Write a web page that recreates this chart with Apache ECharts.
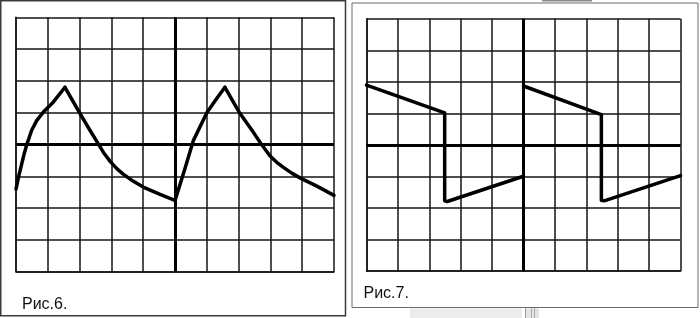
<!DOCTYPE html>
<html>
<head>
<meta charset="utf-8">
<script src="https://cdn.jsdelivr.net/npm/echarts@6/dist/echarts.min.js"></script>
<style>html,body{margin:0;padding:0;background:#fff}#c{width:700px;height:318px}</style>
</head>
<body>
<div id="c"></div>
<script>
// Axis ranges (divisions of the oscilloscope screen)
const xTicks = [0, 1, 2, 3, 4, 5, 6, 7, 8, 9, 10];
const yTicks = [-4, -3, -2, -1, 0, 1, 2, 3, 4];
const captions = ["Рис.6.", "Рис.7."];

// Рис.6 — exponential charge / discharge waveform, [x, y] in divisions
const fig6Rise1 = [[0, -1.4], [0.09, -0.98], [0.18, -0.61], [0.26, -0.28], [0.34, 0], [0.49, 0.44], [0.65, 0.75], [0.86, 1.02], [1.17, 1.33], [1.54, 1.8]];
const fig6Fall1 = [[1.54, 1.8], [2.01, 0.98], [2.33, 0.44], [2.54, 0.1], [2.75, -0.25], [2.96, -0.53], [3.17, -0.76], [3.37, -0.93], [3.68, -1.15], [4.0, -1.34], [4.53, -1.57], [5.0, -1.76]];
const fig6Rise2 = [[5.0, -1.76], [5.3, -0.8], [5.58, 0.13], [6.0, 1.0], [6.3, 1.43], [6.57, 1.8]];
const fig6Fall2 = [[6.57, 1.8], [7.04, 0.98], [7.46, 0.39], [7.7, 0.03], [7.99, -0.36], [8.2, -0.56], [8.41, -0.72], [8.67, -0.9], [8.93, -1.05], [9.46, -1.31], [10, -1.6]];

// Рис.7 — sawtooth / tilted square waveform
const fig7Seg1 = [[0, 1.9], [2.49, 1.02], [2.49, -1.77], [2.57, -1.79], [5.0, -0.99]];
const fig7Seg2 = [[5.0, 1.87], [7.48, 0.96], [7.48, -1.75], [7.57, -1.77], [10, -0.97]];

const chart = echarts.init(document.getElementById('c'), null, {renderer: 'canvas'});

const gridLine = {color: '#151515', width: 1.5};
function mkX(i) {
  return {
    type: 'value', gridIndex: i, min: xTicks[0], max: xTicks[xTicks.length - 1], interval: 1,
    axisLabel: {show: false}, axisTick: {show: false},
    axisLine: {show: true, onZero: false, lineStyle: gridLine},
    splitLine: {show: true, lineStyle: gridLine}
  };
}
function mkY(i) {
  return {
    type: 'value', gridIndex: i, min: yTicks[0], max: yTicks[yTicks.length - 1], interval: 1,
    axisLabel: {show: false}, axisTick: {show: false},
    axisLine: {show: true, onZero: false, lineStyle: gridLine},
    splitLine: {show: true, lineStyle: gridLine}
  };
}
const centerLines = {
  silent: true, symbol: 'none', label: {show: false}, animation: false,
  lineStyle: {color: '#000', width: 3, type: 'solid'},
  data: [{xAxis: 5}, {yAxis: 0}]
};
function mkLine(data, i, withCenter) {
  const s = {
    type: 'line', xAxisIndex: i, yAxisIndex: i, data: data, showSymbol: false,
    smooth: false, clip: false,
    lineStyle: {color: '#000', width: 3.5, cap: 'round', join: 'round'},
    z: 5, animation: false
  };
  if (withCenter) s.markLine = centerLines;
  return s;
}

chart.setOption({
  backgroundColor: '#fff',
  animation: false,
  grid: [
    {left: 16, top: 17.3, width: 318, height: 254.4},
    {left: 366.5, top: 18.8, width: 314, height: 252.4}
  ],
  xAxis: [mkX(0), mkX(1)],
  yAxis: [mkY(0), mkY(1)],
  series: [
    mkLine(fig6Rise1, 0, true),
    mkLine(fig6Fall1, 0, false),
    mkLine(fig6Rise2, 0, false),
    mkLine(fig6Fall2, 0, false),
    mkLine(fig7Seg1, 1, true),
    mkLine(fig7Seg2, 1, false)
  ],
  graphic: [
    {type: 'rect', shape: {x: 0.75, y: 0.75, width: 344.75, height: 315}, style: {fill: null, stroke: '#3a3a3a', lineWidth: 1.5}, silent: true},
    {type: 'rect', shape: {x: 352, y: 3, width: 346, height: 304.5}, style: {fill: null, stroke: '#6a6a6a', lineWidth: 1}, silent: true},
    {type: 'rect', shape: {x: 542, y: 0, width: 50, height: 1.6}, style: {fill: '#8a8a8a'}, silent: true},
    {type: 'rect', shape: {x: 410, y: 308.5, width: 112, height: 9.5}, style: {fill: '#ececec'}, silent: true},
    {type: 'rect', shape: {x: 525, y: 308.5, width: 14, height: 9.5}, style: {fill: '#e4e4e4'}, silent: true},
    {type: 'line', shape: {x1: 525.5, y1: 308, x2: 525.5, y2: 318}, style: {stroke: '#999', lineWidth: 1}, silent: true},
    {type: 'line', shape: {x1: 531.5, y1: 308, x2: 531.5, y2: 318}, style: {stroke: '#aaa', lineWidth: 1}, silent: true},
    {type: 'line', shape: {x1: 534.5, y1: 308, x2: 534.5, y2: 318}, style: {stroke: '#aaa', lineWidth: 1}, silent: true},
    {type: 'text', style: {text: captions[0], x: 22, y: 304.5, font: '16px "Liberation Sans", Arial, sans-serif', fill: '#111', verticalAlign: 'middle'}, silent: true},
    {type: 'text', style: {text: captions[1], x: 363.5, y: 293.5, font: '16px "Liberation Sans", Arial, sans-serif', fill: '#111', verticalAlign: 'middle'}, silent: true}
  ]
});
</script>
</body>
</html>
